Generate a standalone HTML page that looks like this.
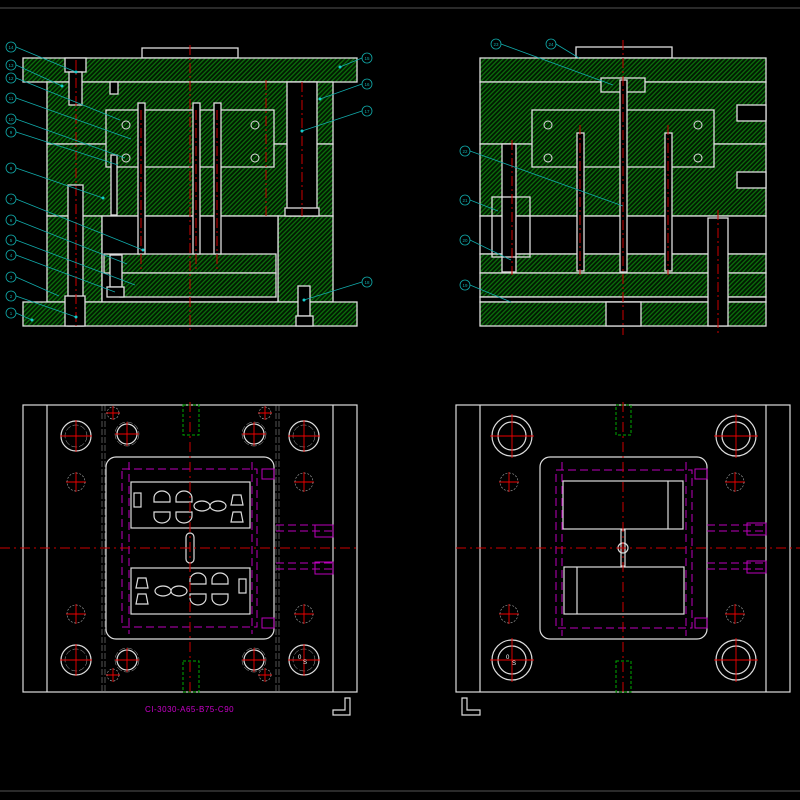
<!DOCTYPE html>
<html><head><meta charset="utf-8"><style>html,body{margin:0;padding:0;background:#000;}svg{display:block}</style></head>
<body>
<svg width="800" height="800" viewBox="0 0 800 800" xmlns="http://www.w3.org/2000/svg" font-family="Liberation Sans, sans-serif">
<defs>
<pattern id="h" width="3.2" height="3.2" patternUnits="userSpaceOnUse" patternTransform="rotate(45)">
<rect width="3.2" height="3.2" fill="#021a02"/><rect width="1.3" height="3.2" fill="#0b6e0b"/>
</pattern>
</defs>
<rect width="800" height="800" fill="#000"/>
<line x1="0" y1="8" x2="800" y2="8" stroke="#555" stroke-width="1"/>
<line x1="0" y1="791" x2="800" y2="791" stroke="#555" stroke-width="1"/>

<!-- ===== TOP LEFT SECTION ===== -->
<g stroke="#ddd" stroke-width="1.3" fill="url(#h)">
<rect x="142" y="48" width="96" height="10" fill="#000"/>
<rect x="23" y="58" width="334" height="24"/>
<rect x="47" y="82" width="286" height="62"/>
<rect x="47" y="144" width="286" height="72"/>
<rect x="47" y="216" width="55" height="86"/>
<rect x="278" y="216" width="55" height="86"/>
<rect x="102" y="216" width="176" height="86" fill="#000"/>
<rect x="106" y="110" width="168" height="57"/>
<rect x="104" y="254" width="172" height="19"/>
<rect x="120" y="273" width="156" height="24"/>
<rect x="23" y="302" width="334" height="24"/>
<rect x="138" y="103" width="7" height="151" fill="#000"/>
<rect x="193" y="103" width="7" height="151" fill="#000"/>
<rect x="214" y="103" width="7" height="151" fill="#000"/>
<rect x="68" y="185" width="15" height="141" fill="#000"/>
<rect x="65" y="296" width="20" height="30" fill="#000"/>
<rect x="65" y="58" width="21" height="14" fill="#000"/>
<rect x="69" y="72" width="13" height="33" fill="#000"/>
<rect x="287" y="82" width="30" height="134" fill="#000"/>
<rect x="285" y="208" width="34" height="8" fill="#000"/>
<rect x="110" y="82" width="8" height="12" fill="#000"/>
<rect x="111" y="155" width="6" height="60" fill="#000"/>
<rect x="110" y="255" width="12" height="32" fill="#000"/>
<rect x="107" y="287" width="17" height="10" fill="#000"/>
<rect x="298" y="286" width="12" height="30" fill="#000"/>
<rect x="296" y="316" width="17" height="10" fill="#000"/>
</g>
<g stroke="#cc0000" stroke-width="1" stroke-dasharray="10,3,2,3">
<line x1="190" y1="45" x2="190" y2="330"/><line x1="76" y1="60" x2="76" y2="326"/>
<line x1="266" y1="80" x2="266" y2="216"/><line x1="302" y1="82" x2="302" y2="216"/>
<line x1="141" y1="110" x2="141" y2="270"/><line x1="196" y1="110" x2="196" y2="270"/><line x1="217" y1="110" x2="217" y2="270"/>
</g>
<g fill="none" stroke="#ddd"><circle cx="126" cy="125" r="4"/><circle cx="255" cy="125" r="4"/><circle cx="126" cy="158" r="4"/><circle cx="255" cy="158" r="4"/></g>
<g stroke="#1aa" stroke-width="0.8" fill="none">
<circle cx="11" cy="47" r="5"/><circle cx="11" cy="65" r="5"/><circle cx="11" cy="78" r="5"/><circle cx="11" cy="98" r="5"/><circle cx="11" cy="119" r="5"/><circle cx="11" cy="132" r="5"/><circle cx="11" cy="168" r="5"/><circle cx="11" cy="199" r="5"/><circle cx="11" cy="220" r="5"/><circle cx="11" cy="240" r="5"/><circle cx="11" cy="255" r="5"/><circle cx="11" cy="277" r="5"/><circle cx="11" cy="296" r="5"/><circle cx="11" cy="313" r="5"/>
<circle cx="367" cy="58" r="5"/><circle cx="367" cy="84" r="5"/><circle cx="367" cy="111" r="5"/><circle cx="367" cy="282" r="5"/>
<path d="M16 47L76 72M16 65L62 86M16 78L120 120M16 98L131 139M16 119L125 158M16 132L118 165M16 168L103 198M16 199L143 250M16 220L127 264M16 240L135 285M16 255L115 292M16 277L59 296M16 296L76 317M16 313L32 320M362 58L340 67M362 84L320 99M362 111L302 131M362 282L304 300"/>
</g>
<g fill="#1aa" font-size="4.5" text-anchor="middle">
<text x="11" y="49">14</text><text x="11" y="67">13</text><text x="11" y="80">12</text><text x="11" y="100">11</text><text x="11" y="121">10</text><text x="11" y="134">9</text><text x="11" y="170">8</text><text x="11" y="201">7</text><text x="11" y="222">6</text><text x="11" y="242">5</text><text x="11" y="257">4</text><text x="11" y="279">3</text><text x="11" y="298">2</text><text x="11" y="315">1</text>
<text x="367" y="60">15</text><text x="367" y="86">16</text><text x="367" y="113">17</text><text x="367" y="284">18</text>
<text x="496" y="46">23</text><text x="551" y="46">24</text><text x="465" y="153">22</text><text x="465" y="202">21</text><text x="465" y="242">20</text><text x="465" y="287">19</text>
</g>
<g fill="#1cc"><circle cx="76" cy="72" r="1.5"/><circle cx="62" cy="86" r="1.5"/><circle cx="103" cy="198" r="1.5"/><circle cx="143" cy="250" r="1.5"/><circle cx="340" cy="67" r="1.5"/><circle cx="320" cy="99" r="1.5"/><circle cx="302" cy="131" r="1.5"/><circle cx="304" cy="300" r="1.5"/><circle cx="76" cy="317" r="1.5"/><circle cx="32" cy="320" r="1.5"/></g>

<!-- ===== TOP RIGHT SECTION ===== -->
<g stroke="#ddd" stroke-width="1.3" fill="url(#h)">
<rect x="576" y="47" width="96" height="11" fill="#000"/>
<rect x="480" y="58" width="286" height="24"/>
<rect x="480" y="82" width="286" height="62"/>
<rect x="480" y="144" width="286" height="72"/>
<rect x="480" y="216" width="286" height="38" fill="#000"/>
<rect x="532" y="110" width="182" height="57"/>
<rect x="601" y="78" width="44" height="14"/>
<rect x="480" y="254" width="286" height="19"/>
<rect x="480" y="273" width="286" height="24"/>
<rect x="480" y="297" width="286" height="5" fill="#000"/>
<rect x="480" y="302" width="286" height="24"/>
<rect x="606" y="302" width="35" height="24" fill="#000"/>
<rect x="502" y="144" width="14" height="128" fill="#000"/>
<rect x="577" y="133" width="7" height="138" fill="#000"/>
<rect x="620" y="80" width="7" height="192" fill="#000"/>
<rect x="665" y="133" width="7" height="138" fill="#000"/>
<rect x="708" y="218" width="20" height="108" fill="#000"/>
<rect x="737" y="105" width="29" height="16" fill="#000"/>
<rect x="737" y="172" width="29" height="16" fill="#000"/>
<rect x="492" y="197" width="38" height="60" fill="none"/>
</g>
<g stroke="#cc0000" stroke-width="1" stroke-dasharray="10,3,2,3">
<line x1="623" y1="40" x2="623" y2="335"/><line x1="580" y1="125" x2="580" y2="275"/><line x1="668" y1="125" x2="668" y2="275"/><line x1="718" y1="210" x2="718" y2="335"/><line x1="512" y1="140" x2="512" y2="275"/>
</g>
<g fill="none" stroke="#ddd"><circle cx="548" cy="125" r="4"/><circle cx="698" cy="125" r="4"/><circle cx="548" cy="158" r="4"/><circle cx="698" cy="158" r="4"/></g>
<g stroke="#1aa" stroke-width="0.8" fill="none">
<circle cx="496" cy="44" r="5"/><circle cx="551" cy="44" r="5"/><circle cx="465" cy="151" r="5"/><circle cx="465" cy="200" r="5"/><circle cx="465" cy="240" r="5"/><circle cx="465" cy="285" r="5"/>
<path d="M501 44L613 85M556 44L579 58M470 151L623 206M470 200L498 211M470 240L511 260M470 285L511 302"/>
</g>

<!-- ===== BOTTOM LEFT PLAN ===== -->
<g stroke="#ddd" stroke-width="1.2" fill="none">
<rect x="23" y="405" width="334" height="287"/>
<line x1="47" y1="405" x2="47" y2="692"/><line x1="333" y1="405" x2="333" y2="692"/>
<rect x="106" y="457" width="168" height="182" rx="10"/>
<rect x="131" y="482" width="119" height="46"/>
<rect x="131" y="568" width="119" height="46"/>
<rect x="134" y="493" width="7" height="14"/><rect x="239" y="579" width="7" height="14"/>
<rect x="186" y="533" width="8" height="30" rx="4"/>
<circle cx="76" cy="436" r="15"/><circle cx="304" cy="436" r="15"/><circle cx="76" cy="660" r="15"/><circle cx="304" cy="660" r="15"/>
<circle cx="127" cy="434" r="10"/><circle cx="254" cy="434" r="10"/><circle cx="127" cy="660" r="10"/><circle cx="254" cy="660" r="10"/>
<path d="M154 498a8 7 0 0 1 16 0v4h-16zM176 498a8 7 0 0 1 16 0v4h-16zM154 512v4a8 7 0 0 0 16 0v-4zM176 512v4a8 7 0 0 0 16 0v-4z"/>
<path d="M190 580a8 7 0 0 1 16 0v4h-16zM212 580a8 7 0 0 1 16 0v4h-16zM190 594v4a8 7 0 0 0 16 0v-4zM212 594v4a8 7 0 0 0 16 0v-4z"/>
<ellipse cx="202" cy="506" rx="8" ry="5"/><ellipse cx="218" cy="506" rx="8" ry="5"/>
<ellipse cx="163" cy="591" rx="8" ry="5"/><ellipse cx="179" cy="591" rx="8" ry="5"/>
<path d="M233 495h8l2 10h-12zM233 512h8l2 10h-12zM138 578h8l2 10h-12zM138 594h8l2 10h-12z"/>
</g>
<g stroke="#aaa" stroke-width="0.5" fill="none" stroke-dasharray="6,2">
<line x1="102" y1="405" x2="102" y2="692"/><line x1="105" y1="405" x2="105" y2="692"/><line x1="276" y1="405" x2="276" y2="692"/><line x1="279" y1="405" x2="279" y2="692"/>
<circle cx="76" cy="436" r="11"/><circle cx="304" cy="436" r="11"/><circle cx="76" cy="660" r="11"/><circle cx="304" cy="660" r="11"/>
<circle cx="127" cy="434" r="12"/><circle cx="254" cy="434" r="12"/><circle cx="127" cy="660" r="12"/><circle cx="254" cy="660" r="12"/>
</g>
<g stroke="#b0b" stroke-width="1" fill="none" stroke-dasharray="8,4">
<rect x="122" y="469" width="135" height="158"/>
<line x1="129" y1="462" x2="129" y2="634"/><line x1="252" y1="462" x2="252" y2="634"/>
<path d="M276 525h57M276 531h57M276 563h57M276 569h57"/>
</g>
<g stroke="#b0b" stroke-width="1" fill="none"><rect x="315" y="525" width="18" height="12"/><rect x="315" y="562" width="18" height="12"/><rect x="262" y="469" width="12" height="10"/><rect x="262" y="618" width="12" height="10"/></g>
<g stroke="#0a0" stroke-width="1" fill="none" stroke-dasharray="3,2"><rect x="183" y="405" width="16" height="30"/><rect x="183" y="661" width="16" height="31"/></g>
<g stroke="#cc0000" stroke-width="1" stroke-dasharray="10,4,2,4" fill="none">
<line x1="0" y1="548" x2="360" y2="548"/><line x1="190" y1="402" x2="190" y2="695"/>
</g>
<g stroke="#e00" stroke-width="0.9">
<path d="M60 436h32M76 420v32M288 436h32M304 420v32M60 660h32M76 644v32M288 660h32M304 644v32M115 434h24M127 422v24M242 434h24M254 422v24M115 660h24M127 648v24M242 660h24M254 648v24M66 482h20M76 472v20M294 482h20M304 472v20M66 614h20M76 604v20M294 614h20M304 604v20M106 413h14M113 406v14M258 413h14M265 406v14M106 675h14M113 668v14M258 675h14M265 668v14"/>
</g>
<g stroke="#aaa" stroke-width="0.6" fill="none" stroke-dasharray="2,1.5">
<circle cx="76" cy="482" r="9"/><circle cx="304" cy="482" r="9"/><circle cx="76" cy="614" r="9"/><circle cx="304" cy="614" r="9"/>
<circle cx="113" cy="413" r="6"/><circle cx="265" cy="413" r="6"/><circle cx="113" cy="675" r="6"/><circle cx="265" cy="675" r="6"/>
</g>
<text x="145" y="712" fill="#c0c" font-size="8" letter-spacing="0.5">CI-3030-A65-B75-C90</text>
<path d="M333 715h17v-17h-5v12h-12z" fill="none" stroke="#ddd" stroke-width="1.2"/>
<text x="298" y="659" fill="#fff" font-size="6">0</text><text x="303" y="664" fill="#fff" font-size="6">S</text>

<!-- ===== BOTTOM RIGHT PLAN ===== -->
<g stroke="#ddd" stroke-width="1.2" fill="none">
<rect x="456" y="405" width="334" height="287"/>
<line x1="480" y1="405" x2="480" y2="692"/><line x1="766" y1="405" x2="766" y2="692"/>
<rect x="540" y="457" width="167" height="182" rx="10"/>
<rect x="563" y="481" width="120" height="48"/><line x1="668" y1="481" x2="668" y2="529"/>
<rect x="564" y="567" width="120" height="47"/><line x1="577" y1="567" x2="577" y2="614"/>
<circle cx="512" cy="436" r="20"/><circle cx="512" cy="436" r="14"/><circle cx="736" cy="436" r="20"/><circle cx="736" cy="436" r="14"/>
<circle cx="512" cy="660" r="20"/><circle cx="512" cy="660" r="14"/><circle cx="736" cy="660" r="20"/><circle cx="736" cy="660" r="14"/>
<circle cx="623" cy="548" r="5"/><rect x="621" y="530" width="4" height="36"/>
</g>
<g stroke="#b0b" stroke-width="1" fill="none" stroke-dasharray="8,4">
<rect x="556" y="470" width="136" height="158"/>
<line x1="562" y1="462" x2="562" y2="636"/><line x1="686" y1="462" x2="686" y2="636"/>
<path d="M707 525h60M707 531h60M707 563h60M707 569h60"/>
</g>
<g stroke="#b0b" stroke-width="1" fill="none"><rect x="747" y="523" width="19" height="12"/><rect x="747" y="561" width="19" height="12"/><rect x="695" y="469" width="12" height="10"/><rect x="695" y="618" width="12" height="10"/></g>
<g stroke="#0a0" stroke-width="1" fill="none" stroke-dasharray="3,2"><rect x="616" y="405" width="15" height="30"/><rect x="616" y="661" width="15" height="31"/></g>
<g stroke="#cc0000" stroke-width="1" stroke-dasharray="10,4,2,4" fill="none">
<line x1="456" y1="548" x2="800" y2="548"/><line x1="623" y1="402" x2="623" y2="695"/>
</g>
<g stroke="#e00" stroke-width="0.9">
<path d="M490 436h44M512 414v44M714 436h44M736 414v44M490 660h44M512 638v44M714 660h44M736 638v44M499 482h20M509 472v20M725 482h20M735 472v20M499 614h20M509 604v20M725 614h20M735 604v20"/>
</g>
<g stroke="#aaa" stroke-width="0.6" fill="none" stroke-dasharray="2,1.5">
<circle cx="509" cy="482" r="9"/><circle cx="735" cy="482" r="9"/><circle cx="509" cy="614" r="9"/><circle cx="735" cy="614" r="9"/>
</g>
<text x="506" y="659" fill="#fff" font-size="6">0</text><text x="512" y="665" fill="#fff" font-size="6">S</text>
<path d="M462 698v17h18v-5h-13v-12z" fill="none" stroke="#ddd" stroke-width="1.2"/>
</svg>
</body></html>
